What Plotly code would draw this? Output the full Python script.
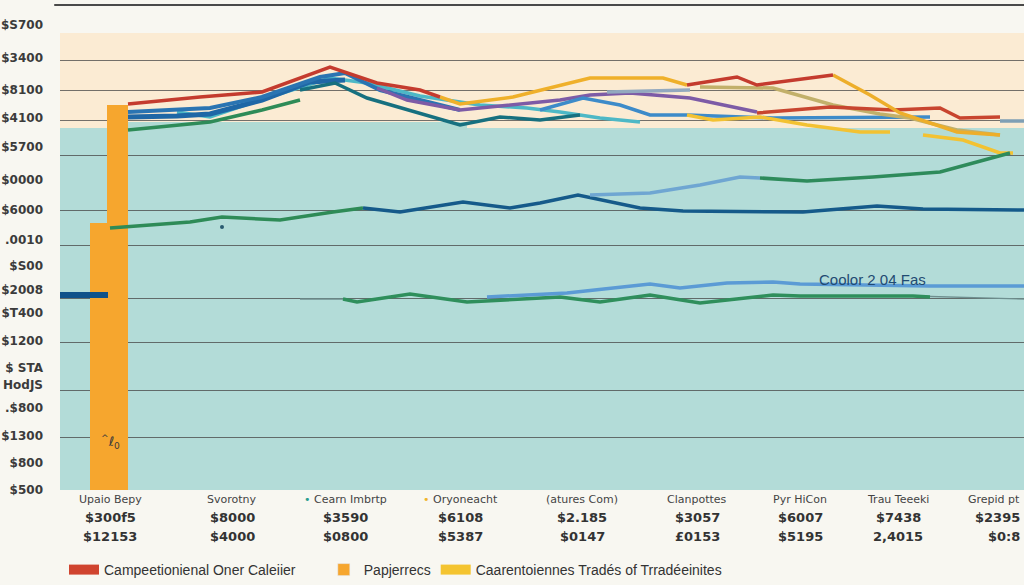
import plotly.graph_objects as go

# ---------------- data (vertical index 0 = plot bottom) ----------------
y_tick_vals = [465, 432, 400, 372, 343, 310, 280, 250, 224, 200, 177, 149, 122, 105, 82, 54, 27, 0]
y_tick_text = ["$S700", "$3400", "$8100", "$4100", "$5700", "$0000", "$6000", ".0010", "$S00",
               "$2008", "$T400", "$1200", "$ STA", "HodJS", ".$800", "$1300", "$800", "$500"]
grid_vals = [430, 400, 370, 335, 280, 245, 192, 148, 100, 53]

cat_x = [110, 232, 345, 460, 582, 697, 800, 898, 1005]
cat_names = ["Upaio Bepy", "Svorotny", "Cearn Imbrtp", "Oryoneacht", "(atures Com)",
             "Clanpottes", "Pyr HiCon", "Trau Teeeki", "Grepid pt"]
cat_dot = [None, None, "#2a9d8f", "#f0b429", None, None, None, None, None]
cat_val1 = ["$300f5", "$8000", "$3590", "$6108", "$2.185", "$3057", "$6007", "$7438", "$2395"]
cat_val2 = ["$12153", "$4000", "$0800", "$5387", "$0147", "£0153", "$5195", "2,4015", "$0:8"]

bar_x = [109, 117.5]
bar_y = [267, 385]
bar_w = [38, 21]

red_top_x = [128, 200, 262, 330, 377, 420, 440]
red_top_y = [386, 393, 398, 423, 407, 400, 393]
red_mid_x = [687, 737, 757, 833]
red_mid_y = [405, 413, 405, 415]
red_low_x = [757, 830, 893, 940, 960, 1000]
red_low_y = [377, 383, 380, 382, 372, 373]

yel_top_x = [440, 460, 513, 560, 590, 663, 687]
yel_top_y = [393, 386, 393, 405, 412, 412, 405]
yel_fall_x = [833, 870, 900, 957, 1000]
yel_fall_y = [415, 395, 377, 358, 355]
yel_low_x = [687, 713, 760, 807, 860, 890]
yel_low_y = [375, 370, 373, 365, 358, 358]
yel_tail_x = [923, 963, 1000, 1013]
yel_tail_y = [355, 350, 337, 337]

purple_x = [377, 407, 460, 560, 590, 630, 690, 757]
purple_y = [402, 390, 380, 390, 395, 397, 392, 378]

blue_main_x = [128, 210, 262, 320, 345, 380, 420, 460]
blue_main_y = [378, 382, 393, 413, 417, 400, 390, 380]
blue_two_x = [128, 177, 210, 262, 310, 345]
blue_two_y = [373, 374, 376, 390, 408, 410]
blue_mid_x = [540, 583, 620, 650, 687, 773, 930]
blue_mid_y = [380, 392, 385, 375, 375, 372, 373]

teal_dark_x = [300, 335, 367, 420, 460, 500, 540, 580]
teal_dark_y = [400, 407, 392, 377, 365, 373, 370, 375]
cyan_x = [177, 210, 260, 330, 367, 420, 480, 527, 560, 600, 640]
cyan_y = [378, 373, 390, 412, 407, 394, 385, 382, 378, 372, 368]

gray_a_x = [607, 650, 690]
gray_a_y = [398, 399, 400]
gray_b_x = [1000, 1024]
gray_b_y = [369, 369]

khaki_x = [700, 773, 833, 880, 910, 957, 1000]
khaki_y = [403, 402, 385, 376, 372, 360, 355]

green_top_x = [128, 210, 262, 300]
green_top_y = [360, 368, 380, 390]
green_right_x = [760, 807, 873, 940, 1010]
green_right_y = [312, 309, 313, 318, 337]
lblue_mid_x = [590, 650, 700, 740, 760]
lblue_mid_y = [295, 297, 305, 313, 312]

navy_mid_x = [363, 400, 463, 510, 540, 578, 640, 683, 803, 877, 923, 1024]
navy_mid_y = [282, 278, 288, 282, 287, 295, 282, 279, 278, 284, 281, 280]
green_mid_x = [110, 190, 222, 280, 333, 363]
green_mid_y = [262, 268, 273, 270, 278, 282]

green_low_x = [343, 357, 410, 467, 560, 600, 650, 700, 773, 800, 913, 930]
green_low_y = [191, 188, 196, 188, 193, 188, 195, 187, 195, 194, 194, 193]
thin_a_x = [300, 343]
thin_a_y = [191, 191]
thin_b_x = [913, 1024]
thin_b_y = [194, 191]
blue_low_x = [487, 567, 650, 680, 727, 773, 800, 860, 930, 1024]
blue_low_y = [193, 197, 206, 202, 207, 208, 206, 205, 204, 204]

navy_seg_x = [60, 108]
navy_seg_y = [195, 195]
dot_x = [222]
dot_y = [263]

legend_names = ["Campeetionienal Oner Caleiier", "Papjerrecs", "Caarentoiennes Tradés of Trradéeinites"]

# ---------------- figure ----------------
BG = "#F8F7F1"
PAD = "\u00a0" * 6
fig = go.Figure()

fig.add_trace(go.Bar(x=bar_x, y=bar_y, width=bar_w, marker=dict(color="#F6A62E", line=dict(width=0)),
                     name=legend_names[1], showlegend=False, hoverinfo="skip"))


def add_line(xs, ys, color, width=3.5):
    fig.add_trace(go.Scatter(x=xs, y=ys, mode="lines", line=dict(color=color, width=width),
                             showlegend=False, hoverinfo="skip"))


add_line(green_top_x, green_top_y, "#2E8B57")
add_line(cyan_x, cyan_y, "#4DB8C6")
add_line(blue_two_x, blue_two_y, "#1F67A6", 5)
add_line(blue_main_x, blue_main_y, "#2A74B2", 4)
add_line(teal_dark_x, teal_dark_y, "#17707F")
add_line(purple_x, purple_y, "#7D5BA6")
add_line(blue_mid_x, blue_mid_y, "#3D8BC9")
add_line(gray_a_x, gray_a_y, "#93A9BF")
add_line(khaki_x, khaki_y, "#C2B06A")
add_line(yel_low_x, yel_low_y, "#F3C232")
add_line(yel_tail_x, yel_tail_y, "#F3C232")
add_line(red_low_x, red_low_y, "#C8452F")
add_line(gray_b_x, gray_b_y, "#7F9FB5")
add_line(yel_top_x, yel_top_y, "#EFB02A")
add_line(yel_fall_x, yel_fall_y, "#EDAE2A")
add_line(red_top_x, red_top_y, "#C43B2E")
add_line(red_mid_x, red_mid_y, "#C43B2E")
add_line(green_mid_x, green_mid_y, "#2E8B57")
add_line(navy_mid_x, navy_mid_y, "#155A8A")
add_line(lblue_mid_x, lblue_mid_y, "#6FA6D2")
add_line(green_right_x, green_right_y, "#2E8B5B")
add_line(thin_a_x, thin_a_y, "#6E8F8F", 1.3)
add_line(thin_b_x, thin_b_y, "#6E8F8F", 1.3)
add_line(green_low_x, green_low_y, "#2F8F5C")
add_line(blue_low_x, blue_low_y, "#5B9BD5")
add_line(navy_seg_x, navy_seg_y, "#10528A", 6)
fig.add_trace(go.Scatter(x=dot_x, y=dot_y, mode="markers", marker=dict(color="#2A5A70", size=4),
                         showlegend=False, hoverinfo="skip"))

# legend entries
fig.add_trace(go.Scatter(x=[None], y=[None], mode="lines", line=dict(color="#D0442F", width=10),
                         name=legend_names[0] + PAD))
fig.add_trace(go.Bar(x=[None], y=[None], marker=dict(color="#F6A62E"), name=legend_names[1]))
fig.add_trace(go.Scatter(x=[None], y=[None], mode="lines", line=dict(color="#F4C430", width=10),
                         name=legend_names[2]))

# background bands and frame line
shapes = [
    dict(type="rect", xref="x", yref="y", x0=60, x1=1024, y0=362, y1=457,
         fillcolor="#FBEBD3", line=dict(width=0), layer="below"),
    dict(type="rect", xref="x", yref="y", x0=60, x1=1024, y0=0, y1=362,
         fillcolor="#B3DCD8", line=dict(width=0), layer="below"),
    dict(type="rect", xref="x", yref="y", x0=128, x1=467, y0=360, y1=368,
         fillcolor="#B0DAD3", line=dict(width=0), layer="below"),
    dict(type="line", xref="paper", yref="y", x0=-0.006, x1=1, y0=485, y1=485,
         line=dict(color="#4A4A4A", width=2)),
]

annotations = []
n_cat = len(cat_x)
for i, (cx, nm, dc, v1, v2) in enumerate(zip(cat_x, cat_names, cat_dot, cat_val1, cat_val2)):
    label = nm if dc is None else f"<span style='color:{dc}'>•</span> {nm}"
    last = i == n_cat - 1
    ax = 1022 if last else cx
    anch = "right" if last else "center"
    annotations.append(dict(x=ax, y=-0.037, xref="x", yref="paper", text=label, showarrow=False,
                            xanchor=anch,
                            font=dict(family="DejaVu Sans", size=11, color="#444444")))
    annotations.append(dict(x=ax, y=-0.076, xref="x", yref="paper", text=v1, showarrow=False,
                            xanchor=anch,
                            font=dict(family="DejaVu Sans", size=13, color="#333333", weight="bold")))
    annotations.append(dict(x=ax, y=-0.115, xref="x", yref="paper", text=v2, showarrow=False,
                            xanchor=anch,
                            font=dict(family="DejaVu Sans", size=13, color="#333333", weight="bold")))

annotations.append(dict(x=872, y=211, xref="x", yref="y", text="Coolor 2 04 Fas", showarrow=False,
                        font=dict(family="Liberation Sans", size=15, color="#1F4A72")))
annotations.append(dict(x=110, y=48, xref="x", yref="y", text="<sup>^</sup>ℓ<sub>0</sub>", showarrow=False,
                        font=dict(family="DejaVu Sans", size=13, color="#3A3A3A")))

fig.update_layout(
    width=1024, height=585,
    margin=dict(l=60, r=0, t=0, b=95, autoexpand=False),
    paper_bgcolor=BG, plot_bgcolor=BG,
    barmode="overlay",
    shapes=shapes,
    annotations=annotations,
    showlegend=True,
    legend=dict(orientation="h", x=0.0625, xref="container", xanchor="left",
                y=1 - 570 / 585, yref="container", yanchor="middle",
                font=dict(family="Liberation Sans", size=14, color="#333333"),
                bgcolor="rgba(0,0,0,0)", traceorder="normal"),
    xaxis=dict(range=[60, 1024], showgrid=False, zeroline=False, showticklabels=False,
               showline=False, fixedrange=True, automargin=False),
    yaxis=dict(range=[0, 490], tickmode="array", tickvals=y_tick_vals, ticktext=y_tick_text,
               showgrid=False, zeroline=False, showline=False, ticks="", ticklabelstandoff=16,
               automargin=False,
               tickfont=dict(family="DejaVu Sans", size=12, color="#3B3B3B", weight="bold"),
               minor=dict(tickmode="array", tickvals=grid_vals, showgrid=True,
                          gridcolor="rgba(70,70,70,0.75)", gridwidth=1.2, ticks=""),
               fixedrange=True),
)

fig.write_html("out.html", config={"displayModeBar": False},
               post_script="document.body.style.margin='0';document.body.style.overflow='hidden';")
